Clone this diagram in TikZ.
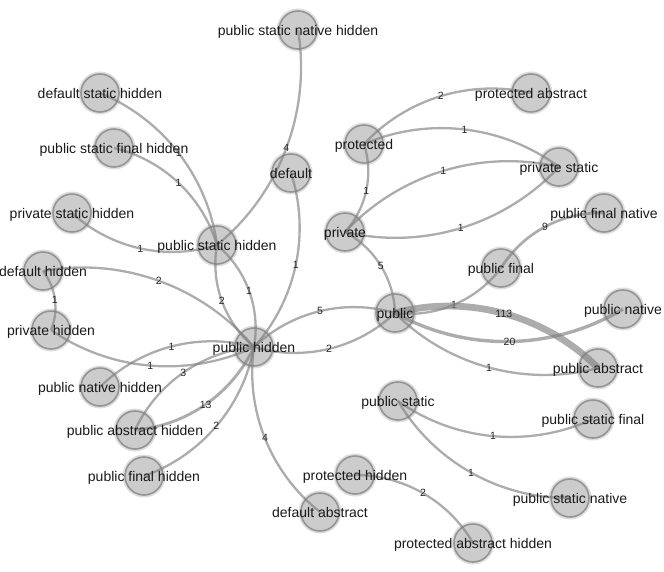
\documentclass[tikz,border=0pt]{standalone}
\usepackage{fontspec}
\setmainfont{Liberation Sans}
\begin{document}
\begin{tikzpicture}[x=1pt,y=-1pt,
  vert/.style={circle, minimum size=38pt, inner sep=0pt, fill=black!20, draw=black!42, line width=1.6pt, preaction={draw=black!13, line width=5pt}},
  vtext/.style={font=\fontsize{14}{16}\selectfont, text=black!90, anchor=base, inner sep=0pt},
  link/.style={draw=black!50, draw opacity=0.65, line width=2.3pt, looseness=0.912},
  wlab/.style={font=\fontsize{10.5}{12}\selectfont, text=black!85, inner sep=0pt}]
\useasboundingbox (0,0) rectangle (664,571);
% vertices
\foreach \n/\x/\y in {psnh/298/30, dsh/100/93, psfh/114/148, prsh/72/213, dh/43/271, prh/51/330,
  pnh/100/387, pah/135/430, pfh/144/476, psh/217/245, def/291/173, ph/254/347, prot/364/144,
  protabs/531/93, prs/559/167, priv/345/232, pfn/604/213, pf/501/268, pub/395/313, pn/623/309,
  pa/598/368, ps/398/401, psf/593/419, psn/570/498, proth/355/475, dabs/320/512, protah/473/543}
  \node[vert] (\n) at (\x,\y) {};
% links
\draw[link] (psnh.center) to[bend left=30] node[wlab]{4} (psh.center);
\draw[link] (dsh.center) to[bend left=30] node[wlab]{1} (psh.center);
\draw[link] (psfh.center) to[bend left=30] node[wlab]{1} (psh.center);
\draw[link] (prsh.center) to[bend right=30] node[wlab]{1} (psh.center);
\draw[link] (psh.center) to[bend right=30] node[wlab]{2} (ph.center);
\draw[link] (psh.center) to[bend left=30] node[wlab]{1} (ph.center);
\draw[link] (def.center) to[bend left=30] node[wlab]{1} (ph.center);
\draw[link] (dh.center) to[bend left=30] node[wlab]{2} (ph.center);
\draw[link] (dh.center) to[bend left=30] node[wlab]{1} (prh.center);
\draw[link] (prh.center) to[bend right=30] node[wlab]{1} (ph.center);
\draw[link] (pnh.center) to[bend left=30] node[wlab]{1} (ph.center);
\draw[link] (pah.center) to[bend left=30] node[wlab]{3} (ph.center);
\draw[link, line width=2.9pt] (pah.center) to[bend right=30] node[wlab]{13} (ph.center);
\draw[link] (pfh.center) to[bend right=30] node[wlab]{2} (ph.center);
\draw[link] (ph.center) to[bend right=30] node[wlab]{4} (dabs.center);
\draw[link] (ph.center) to[bend left=30] node[wlab]{5} (pub.center);
\draw[link] (ph.center) to[bend right=30] node[wlab]{2} (pub.center);
\draw[link] (priv.center) to[bend left=30] node[wlab]{5} (pub.center);
\draw[link] (prot.center) to[bend left=30] node[wlab]{1} (priv.center);
\draw[link] (prot.center) to[bend left=30] node[wlab]{2} (protabs.center);
\draw[link] (prot.center) to[bend left=30] node[wlab]{1} (prs.center);
\draw[link] (priv.center) to[bend left=30] node[wlab]{1} (prs.center);
\draw[link] (priv.center) to[bend right=30] node[wlab]{1} (prs.center);
\draw[link, line width=2.7pt] (pf.center) to[bend left=30] node[wlab]{9} (pfn.center);
\draw[link] (pub.center) to[bend right=30] node[wlab]{1} (pf.center);
\draw[link, line width=6.8pt] (pub.center) to[bend left=30] node[wlab]{113} (pa.center);
\draw[link, line width=3.4pt] (pub.center) to[bend right=30] node[wlab]{20} (pn.center);
\draw[link] (pub.center) to[bend right=30] node[wlab]{1} (pa.center);
\draw[link] (ps.center) to[bend right=30] node[wlab]{1} (psf.center);
\draw[link] (ps.center) to[bend right=30] node[wlab]{1} (psn.center);
\draw[link] (proth.center) to[bend left=30] node[wlab]{2} (protah.center);
% vertex texts
\foreach \n/\t in {psnh/public static native hidden, dsh/default static hidden, psfh/public static final hidden,
  prsh/private static hidden, dh/default hidden, prh/private hidden, pnh/public native hidden,
  pah/public abstract hidden, pfh/public final hidden, psh/public static hidden, def/default,
  ph/public hidden, prot/protected, protabs/protected abstract, prs/private static, priv/private,
  pfn/public final native, pf/public final, pub/public, pn/public native, pa/public abstract,
  ps/public static, psf/public static final, psn/public static native, proth/protected hidden,
  dabs/default abstract, protah/protected abstract hidden}
  \node[vtext] (t-\n) at ([yshift=-5pt]\n.center) {\t};
\end{tikzpicture}
\end{document}
